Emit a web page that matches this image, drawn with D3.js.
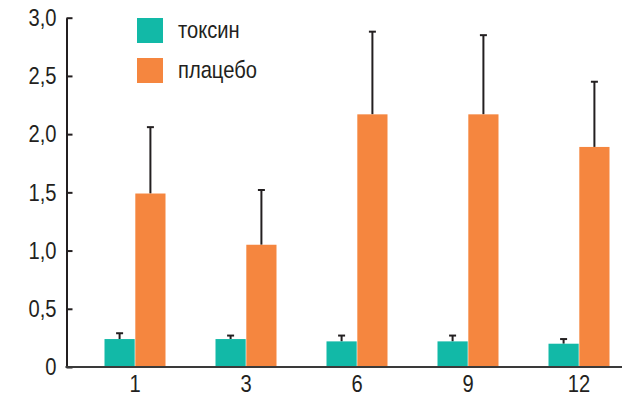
<!DOCTYPE html>
<html>
<head>
<meta charset="utf-8">
<script src="https://cdn.jsdelivr.net/npm/d3@7"></script>
<style>
  html, body { margin: 0; padding: 0; background: #fff; }
  svg { display: block; }
  text { font-family: "Liberation Sans", Arial, sans-serif; fill: #231f20; }
</style>
</head>
<body>
<svg id="chart" width="622" height="396"></svg>
<script>
// Months of follow-up
const categories = ["1", "3", "6", "9", "12"];
const seriesNames = ["токсин", "плацебо"];
const seriesColors = ["#12b9a7", "#f5863f"];
// Mean scores per month
const toxinMeans = [0.24, 0.24, 0.22, 0.22, 0.20];
const placeboMeans = [1.49, 1.05, 2.17, 2.17, 1.89];
// Upper error (standard deviation) per month
const toxinErr = [0.05, 0.03, 0.05, 0.05, 0.04];
const placeboErr = [0.57, 0.47, 0.71, 0.68, 0.56];
const yTicks = [0, 0.5, 1.0, 1.5, 2.0, 2.5, 3.0];

const svg = d3.select("#chart");
const W = 622, H = 396;
const margin = { left: 66.5, top: 17.7, bottom: 29 };
const plotBottom = H - margin.bottom;
const fontSize = 24;
const squeeze = 0.84; // horizontal condensing of the label face

const y = d3.scaleLinear().domain([0, 3]).range([plotBottom, margin.top]);
const x = d3.scaleBand().domain(categories).range([79.5, 634.5]);
const xs = d3.scaleBand().domain(seriesNames).range([-30.5, 30.5]).paddingInner(0.02);

const seriesData = [
  { name: seriesNames[0], color: seriesColors[0], means: toxinMeans, errs: toxinErr },
  { name: seriesNames[1], color: seriesColors[1], means: placeboMeans, errs: placeboErr }
];

const groupCenter = c => x(c) + x.bandwidth() / 2;

// Condensed text: scale horizontally, keeping the anchor point in place
function condense(sel) {
  sel.each(function () {
    const t = d3.select(this);
    const x0 = +t.attr("x") || 0;
    t.attr("x", x0 / squeeze).attr("transform", `scale(${squeeze},1)`);
  });
}

// Error bars (drawn under the bars so they start at the bar top)
seriesData.forEach(s => {
  const g = svg.append("g");
  categories.forEach((c, i) => {
    const cx = groupCenter(c) + xs(s.name) + xs.bandwidth() / 2;
    const top = y(s.means[i] + s.errs[i]);
    g.append("line")
      .attr("x1", cx).attr("x2", cx)
      .attr("y1", y(s.means[i])).attr("y2", top)
      .attr("stroke", "#231f20").attr("stroke-width", 2);
    g.append("line")
      .attr("x1", cx - 3.5).attr("x2", cx + 3.5)
      .attr("y1", top).attr("y2", top)
      .attr("stroke", "#231f20").attr("stroke-width", 2);
  });
});

// Bars
seriesData.forEach(s => {
  svg.append("g").selectAll("rect")
    .data(categories.map((c, i) => ({ c, v: s.means[i] })))
    .join("rect")
    .attr("x", d => groupCenter(d.c) + xs(s.name))
    .attr("width", xs.bandwidth())
    .attr("y", d => y(d.v))
    .attr("height", d => y(0) - y(d.v))
    .attr("fill", s.color);
});

// Y axis with inward ticks
const fmt = v => v === 0 ? "0" : d3.format(".1f")(v).replace(".", ",");
const yAxis = svg.append("g")
  .attr("transform", `translate(${margin.left},0)`)
  .call(d3.axisLeft(y).tickValues(yTicks).tickFormat(fmt)
    .tickSizeInner(-6).tickSizeOuter(0).tickPadding(10));
yAxis.select(".domain").attr("stroke", "#231f20").attr("stroke-width", 2);
yAxis.selectAll(".tick line").attr("stroke", "#231f20").attr("stroke-width", 2);
yAxis.selectAll(".tick text")
  .attr("font-size", fontSize)
  .attr("fill", "#231f20")
  .call(condense);

// X axis labels and baseline
const xAxis = svg.append("g")
  .attr("transform", `translate(0,${plotBottom})`)
  .call(d3.axisBottom(x).tickSize(0).tickPadding(8));
xAxis.select(".domain").remove();
xAxis.selectAll(".tick text")
  .attr("font-size", fontSize)
  .attr("fill", "#231f20")
  .call(condense);
svg.append("line")
  .attr("x1", margin.left - 1).attr("x2", W)
  .attr("y1", plotBottom).attr("y2", plotBottom)
  .attr("stroke", "#3a3a3a").attr("stroke-width", 2);

// Legend
const legend = svg.append("g").attr("transform", "translate(137,18)");
seriesData.forEach((s, i) => {
  const row = legend.append("g").attr("transform", `translate(0,${i * 40})`);
  row.append("rect").attr("width", 26).attr("height", 25).attr("fill", s.color);
  row.append("text")
    .attr("x", 41).attr("y", 12.5).attr("dy", "0.3em")
    .attr("font-size", fontSize)
    .text(s.name)
    .call(condense);
});
</script>
</body>
</html>
